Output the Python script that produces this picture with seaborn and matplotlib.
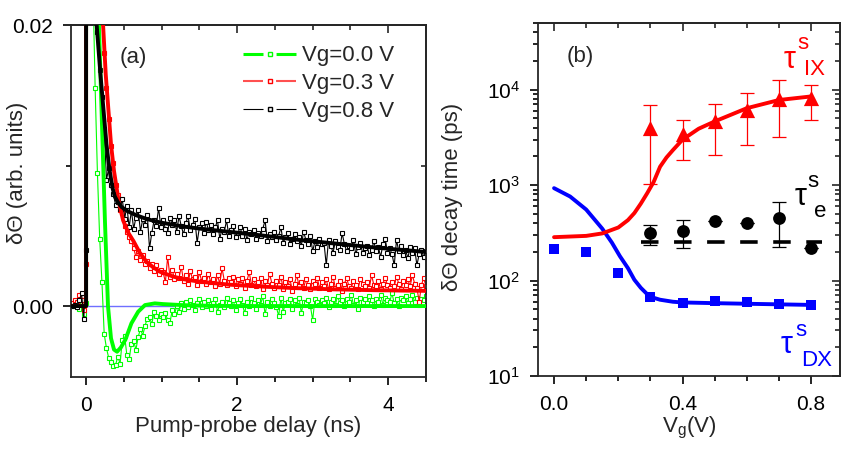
import numpy as np
import matplotlib
matplotlib.use("Agg")
import matplotlib.pyplot as plt
import seaborn as sns
from matplotlib.lines import Line2D
from matplotlib.ticker import MultipleLocator, FormatStrFormatter

# ---- panel (a): pump-probe traces, values in units of 1e-3 ----
delay = np.round(np.arange(157) * 0.03 - 0.18, 2)   # ns, measurement grid

black_data = [0.0, 0.1, -0.1, 0.4, 0.9, -0.9, 4.0, 38, 42, 36,
              23, 19.5, 16.8, 14.9, 12.6, 9.0, 9.8, 8.6, 8.0, 7.2,
              7.4, 6.9, 7.6, 6.2, 7.1, 5.6, 6.8, 5.5, 6.3, 6.8,
              5.3, 6.2, 5.8, 6.5, 4.1, 5.2, 6.1, 5.7, 7.0, 5.6,
              6.1, 5.5, 5.2, 6.3, 5.8, 6.1, 5.3, 6.4, 5.7, 5.1,
              5.9, 6.4, 5.4, 5.8, 6.2, 4.5, 5.6, 5.9, 5.2, 6.0,
              5.4, 5.8, 5.1, 5.6, 6.1, 4.8, 5.5, 5.3, 6.1, 5.0,
              5.4, 5.7, 4.9, 5.2, 5.6, 5.0, 5.5, 4.7, 5.3, 5.1,
              5.4, 4.8, 5.2, 5.0, 5.5, 6.1, 4.6, 5.1, 4.9, 5.3,
              4.7, 5.0, 5.6, 4.5, 4.9, 5.2, 4.4, 4.8, 5.1, 4.6,
              4.9, 4.3, 5.3, 4.7, 4.4, 5.0, 3.9, 4.6, 4.2, 4.8,
              4.4, 4.5, 2.9, 4.7, 4.3, 3.8, 4.6, 4.2, 4.0, 5.2,
              4.4, 3.9, 4.3, 4.1, 4.7, 3.7, 4.2, 4.5, 3.8, 4.1,
              4.3, 3.6, 4.0, 4.6, 3.9, 4.2, 3.5, 4.4, 4.8, 3.8,
              4.1, 3.7, 2.9, 4.7, 3.9, 4.3, 3.6, 4.0, 3.4, 4.2,
              3.8, 4.1, 2.9, 3.7, 4.0, 3.5, 3.9]

red_data = [0.2, 0.4, 0.3, 0.8, 0.4, -0.3, 3.0, 40, 42, 38,
            33, 29, 25, 21.5, 18.0, 15.5, 13.3, 11.4, 10.2, 8.6,
            7.9, 6.8, 6.6, 5.7, 5.3, 4.9, 4.6, 4.1, 3.5, 3.9,
            3.3, 3.6, 3.0, 3.2, 2.7, 3.0, 2.5, 2.9, 2.3, 2.6,
            2.4, 1.7, 3.5, 2.1, 2.6, 1.9, 2.3, 2.0, 2.8, 1.8,
            2.2, 1.6, 2.5, 1.9, 2.1, 1.5, 2.4, 1.8, 2.0, 1.6,
            2.3, 1.7, 1.9, 1.4, 2.2, 1.6, 2.7, 1.8, 1.5, 2.0,
            1.7, 2.1, 1.4, 1.9, 1.6, 2.0, 1.3, 1.8, 2.4, 1.5,
            1.9, 1.4, 1.7, 2.0, 1.2, 1.8, 1.5, 2.3, 1.6, 1.3,
            1.8, 1.5, 2.1, 1.2, 1.7, 1.4, 1.9, 1.1, 1.6, 2.2,
            1.4, 1.7, 1.3, 1.9, 1.5, 1.2, 1.8, 1.6, 2.0, 1.3,
            1.7, 1.4, 1.9, 1.2, 1.6, 2.1, 1.3, 1.5, 1.8, 1.1,
            1.6, 2.0, 1.4, 1.3, 1.8, 1.5, 1.2, 1.9, 1.6, 1.4,
            1.7, 1.3, 2.2, 1.5, 1.4, 1.8, 1.2, 1.6, 2.0, 1.5,
            1.3, 1.7, 1.4, 2.1, 1.6, 1.2, 1.8, 1.5, 1.9, 1.4,
            2.2, 1.6, 1.3, 0.3, 1.5, 2.0, 1.4]

green_data = [0.0, 0.1, 0.0, -0.2, 0.3, -0.6, 0.2, 32, 29, 23,
              15.5, 9.5, 4.8, 1.7, -2.0, -3.0, -3.7, -4.0, -4.3, -4.2,
              -3.6, -4.1, -2.4, -2.1, -3.5, -3.8, -2.7, -2.5, -3.1, -2.2,
              -1.6, -2.1, -1.4, -0.9, -0.8, -1.3, -0.4, -0.7, -1.0, -0.6,
              -0.8, -0.5, -1.0, -1.2, -0.3, -0.6, 0.0, -0.4, 0.2, -0.2,
              0.3, -0.1, 0.4, 0.1, -0.3, 0.2, 0.5, -0.1, 0.3, 0.0,
              0.4, -0.2, 0.2, 0.5, -0.4, 0.1, 0.3, -0.1, 0.6, 0.2,
              0.0, 0.4, -0.3, 0.2, 0.5, 0.1, -0.5, 0.3, 0.0, 0.6,
              0.2, -0.2, 0.4, 0.1, 0.7, -0.6, 0.3, 0.0, 0.5, 0.2,
              -0.1, -0.7, 0.6, -0.4, 0.2, 0.3, 0.5, -0.2, 0.4, 0.1,
              0.6, -0.5, 0.3, 0.2, 0.4, 0.0, -1.0, 0.5, 0.3, 0.1,
              0.4, 0.2, 0.6, -0.1, 0.3, 0.5, 0.1, 0.7, 0.2, 0.4,
              0.0, 0.5, 0.3, 0.8, 0.1, 0.4, -0.2, 0.6, 0.3, 0.5,
              0.2, 0.7, 0.4, 0.0, 0.5, 0.3, 0.8, 0.1, 0.6, 0.4,
              0.3, 0.9, 0.2, 0.5, 0.0, 0.6, 0.4, 0.7, 0.2, 0.5,
              0.8, 0.3, 0.6, 0.1, 0.5, 0.4, 0.7]

# fitted curves, points
black_fit_t = [-0.2, 0.0, 0.0, 0.14, 0.19, 0.23, 0.27, 0.31, 0.35, 0.38, 0.42, 0.47, 0.55,
               0.67, 0.8, 0.98, 1.3, 1.6, 1.95, 2.4, 2.83, 3.3, 3.72, 4.1, 4.5]
black_fit = [0, 0, 30, 20, 16.5, 14, 11.5, 9.7, 8.4, 7.8, 7.4, 7.05, 6.75,
             6.45, 6.2, 5.95, 5.65, 5.45, 5.25, 4.98, 4.7, 4.45, 4.22, 4.03, 3.85]
red_fit_t = [-0.2, 0.0, 0.0, 0.225, 0.26, 0.295, 0.33, 0.37, 0.43, 0.49, 0.56, 0.63, 0.71,
             0.8, 0.89, 0.98, 1.157, 1.3, 1.51, 1.9, 2.39, 2.8, 3.28, 3.8, 4.5]
red_fit = [0, 0, 30, 20, 16.5, 14, 11.5, 9.6, 7.5, 6.1, 5.2, 4.6, 3.8,
           3.15, 2.75, 2.44, 2.09, 1.9, 1.73, 1.52, 1.37, 1.27, 1.19, 1.13, 1.08]
green_fit_t = [-0.2, 0.0, 0.0, 0.17, 0.21, 0.25, 0.29, 0.33, 0.37, 0.41, 0.46, 0.52, 0.6,
               0.69, 0.78, 0.91, 1.02, 1.3, 1.6, 2.0, 4.5]
green_fit = [0, 0, 30, 20, 13, 6, 0, -2.3, -3.1, -3.25, -2.95, -2.4, -1.23,
             -0.4, 0.07, 0.19, 0.14, 0.06, 0.02, 0.0, 0.0]

legend_labels = ["Vg=0.0 V", "Vg=0.3 V", "Vg=0.8 V"]

# ---- panel (b): decay times vs gate voltage (ps) ----
vg = [0.0, 0.1, 0.2, 0.3, 0.4, 0.5, 0.6, 0.7, 0.8]
tau_dx = [212, 200, 120, 68, 58, 60.5, 59, 57, 55.5]

vg_ix = [0.3, 0.4, 0.5, 0.6, 0.7, 0.8]
tau_ix = [3960, 3430, 4730, 6170, 8050, 8180]
tau_ix_hi = [6860, 4810, 7080, 9160, 12600, 11300]
tau_ix_lo = [1020, 1830, 2050, 2610, 3190, 4770]

vg_e = [0.3, 0.4, 0.5, 0.6, 0.7, 0.8]
tau_e = [314, 332, 426, 405, 451, 218]
tau_e_hi = [384, 429, 426, 405, 664, 218]
tau_e_lo = [237, 222, 426, 405, 227, 218]

dx_fit_v = [0.0, 0.05, 0.1, 0.15, 0.18, 0.205, 0.23, 0.25, 0.27, 0.29, 0.31, 0.33, 0.37,
            0.4, 0.5, 0.62, 0.8]
dx_fit = [930, 760, 555, 350, 250, 180, 135, 102, 84, 72, 66, 63, 60, 59, 58, 57, 55.6]
ix_fit_v = [0.0, 0.1, 0.15, 0.2, 0.23, 0.25, 0.27, 0.29, 0.31, 0.33, 0.35, 0.37, 0.4,
            0.45, 0.5, 0.6, 0.7, 0.8]
ix_fit = [285, 294, 312, 360, 430, 510, 640, 824, 1080, 1560, 1950, 2330, 3000,
          3900, 4650, 6400, 7800, 8500]
e_level_v = [0.27, 0.835]
e_level = [256, 256]

# ---- style ----
sns.set_style("ticks")
plt.rcParams["font.family"] = ["Liberation Sans", "DejaVu Sans"]
plt.rcParams["mathtext.fontset"] = "custom"
plt.rcParams["mathtext.rm"] = "Liberation Sans"
plt.rcParams["mathtext.it"] = "Liberation Sans:italic"
plt.rcParams["lines.scale_dashes"] = False
plt.rcParams["axes.linewidth"] = 1.3

GREEN, RED, BLACK, BLUE = "#00ff00", "#ff0000", "#000000", "#0000ff"

fig = plt.figure(figsize=(8.41, 4.5), dpi=100)
ax1 = fig.add_axes([0.0844, 0.1622, 0.4221, 0.7822])
ax2 = fig.add_axes([0.6397, 0.1644, 0.3591, 0.7845])

# panel (a)
ax1.axhline(0, color="#6f6fff", lw=1.0, zorder=1)
for ys, c in [(green_data, GREEN), (red_data, RED), (black_data, BLACK)]:
    sns.lineplot(x=delay, y=np.array(ys) / 1000, ax=ax1, color=c, lw=0.8,
                 marker="s", markersize=3.2, markerfacecolor="white",
                 markeredgecolor=c, markeredgewidth=0.8,
                 estimator=None, sort=False, zorder=2)
for tt, ys, c in [(green_fit_t, green_fit, GREEN), (red_fit_t, red_fit, RED),
                  (black_fit_t, black_fit, BLACK)]:
    sns.lineplot(x=tt, y=np.array(ys) / 1000, ax=ax1, color=c, lw=2.8,
                 estimator=None, sort=False, zorder=3)

ax1.set_xlim(-0.2, 4.5)
ax1.set_ylim(-0.00505, 0.02)
ax1.xaxis.set_major_locator(MultipleLocator(2))
ax1.xaxis.set_minor_locator(MultipleLocator(0.5))
ax1.yaxis.set_major_locator(MultipleLocator(0.02))
ax1.yaxis.set_minor_locator(MultipleLocator(0.01))
ax1.yaxis.set_major_formatter(FormatStrFormatter("%.2f"))
ax1.set_xlabel("Pump-probe delay (ns)", fontsize=16, labelpad=1)
ax1.set_ylabel("δΘ (arb. units)", fontsize=16)
ax1.yaxis.set_label_coords(-0.121, 0.58)
ax1.text(0.175, 0.909, "(a)", transform=ax1.transAxes, fontsize=16,
         ha="center", va="center")

handles = [
    Line2D([], [], color=GREEN, lw=2.2, dashes=(14.4, 9.4), marker="s",
           markersize=3.2, markerfacecolor="white", markeredgecolor=GREEN),
    Line2D([], [], color="#ff5050", lw=1.5, dashes=(14.4, 9.4), marker="s",
           markersize=3.2, markerfacecolor="white", markeredgecolor=RED),
    Line2D([], [], color=BLACK, lw=0.8, dashes=(14.4, 9.4), marker="s",
           markersize=3.2, markerfacecolor="white", markeredgecolor=BLACK),
]
ax1.legend(handles, legend_labels, loc="upper left", bbox_to_anchor=(0.485, 0.942),
           frameon=False, fontsize=16, handlelength=2.39, handletextpad=0.27,
           labelspacing=0.3, borderpad=0, borderaxespad=0, numpoints=1)

# panel (b)
sns.lineplot(x=dx_fit_v, y=dx_fit, ax=ax2, color=BLUE, lw=2.8,
             estimator=None, sort=False, zorder=2)
sns.lineplot(x=ix_fit_v, y=ix_fit, ax=ax2, color=RED, lw=2.8,
             estimator=None, sort=False, zorder=2)
ax2.errorbar(vg_ix, tau_ix,
             yerr=[np.array(tau_ix) - np.array(tau_ix_lo),
                   np.array(tau_ix_hi) - np.array(tau_ix)],
             fmt="none", ecolor=RED, elinewidth=0.9, capsize=5, capthick=0.9, zorder=3)
ax2.errorbar(vg_e, tau_e,
             yerr=[np.array(tau_e) - np.array(tau_e_lo),
                   np.array(tau_e_hi) - np.array(tau_e)],
             fmt="none", ecolor=BLACK, elinewidth=0.9, capsize=5, capthick=0.9, zorder=3)
sns.scatterplot(x=vg, y=tau_dx, ax=ax2, color=BLUE, marker="s", s=60,
                linewidth=0, zorder=4)
sns.scatterplot(x=vg_ix, y=tau_ix, ax=ax2, color=RED, marker="^", s=120,
                linewidth=0, zorder=4)
sns.scatterplot(x=vg_e, y=tau_e, ax=ax2, color=BLACK, marker="o", s=85,
                linewidth=0, zorder=4)
sns.lineplot(x=e_level_v, y=e_level, ax=ax2, color=BLACK, lw=2.6,
             dashes=False, estimator=None, zorder=5).lines[-1].set_dashes((12.6, 11.2))

ax2.set_yscale("log")
ax2.set_xlim(-0.05, 0.89)
ax2.set_ylim(10, 5e4)
ax2.xaxis.set_major_locator(MultipleLocator(0.4))
ax2.xaxis.set_minor_locator(MultipleLocator(0.1))
ax2.xaxis.set_major_formatter(FormatStrFormatter("%.1f"))
ax2.set_xlabel("V$_\\mathregular{g}$(V)", fontsize=16, labelpad=1)
ax2.set_ylabel("δΘ decay time (ps)", fontsize=16)
ax2.yaxis.set_label_coords(-0.248, 0.507)
ax2.text(0.139, 0.904, "(b)", transform=ax2.transAxes, fontsize=16,
         ha="center", va="center")

for (xt, yt, xs, ys, xb, yb, sub, c) in [
        (0.834, 0.895, 0.876, 0.942, 0.917, 0.867, "IX", RED),
        (0.868, 0.507, 0.909, 0.551, 0.934, 0.465, "e", BLACK),
        (0.824, 0.088, 0.869, 0.129, 0.924, 0.045, "DX", BLUE)]:
    ax2.text(xt, yt, "τ", transform=ax2.transAxes, color=c, fontsize=22,
             ha="center", va="center")
    ax2.text(xs, ys, "s", transform=ax2.transAxes, color=c, fontsize=16,
             ha="center", va="center")
    ax2.text(xb, yb, sub, transform=ax2.transAxes, color=c, fontsize=16,
             ha="center", va="center")

# ticks: outward on left/bottom, inward mirrors on top/right
for ax in (ax1, ax2):
    ax.tick_params(which="both", direction="out", top=False, right=False,
                   labelsize=15, width=1.2, colors="black")
    ax.tick_params(which="major", length=6)
    ax.tick_params(which="minor", length=3.5)
    ax.tick_params(axis="x", which="both", pad=7.5)
    ax.tick_params(axis="y", which="both", pad=7)
    for side in ("top", "right"):
        ax.spines[side].set_visible(True)

    top = ax.secondary_xaxis("top")
    top.xaxis.set_major_locator(ax.xaxis.get_major_locator())
    top.xaxis.set_minor_locator(ax.xaxis.get_minor_locator())
    top.tick_params(which="both", direction="in", labeltop=False, width=1.2)
    top.tick_params(which="major", length=6)
    top.tick_params(which="minor", length=3.5)

ax1r = ax1.secondary_yaxis("right")
ax1r.yaxis.set_major_locator(MultipleLocator(0.02))
ax1r.yaxis.set_minor_locator(MultipleLocator(0.01))
ax2r = ax2.secondary_yaxis("right")
for r in (ax1r, ax2r):
    r.tick_params(which="both", direction="in", labelright=False, width=1.2)
    r.tick_params(which="major", length=6)
    r.tick_params(which="minor", length=3.5)

fig.savefig("out.png", dpi=100)
